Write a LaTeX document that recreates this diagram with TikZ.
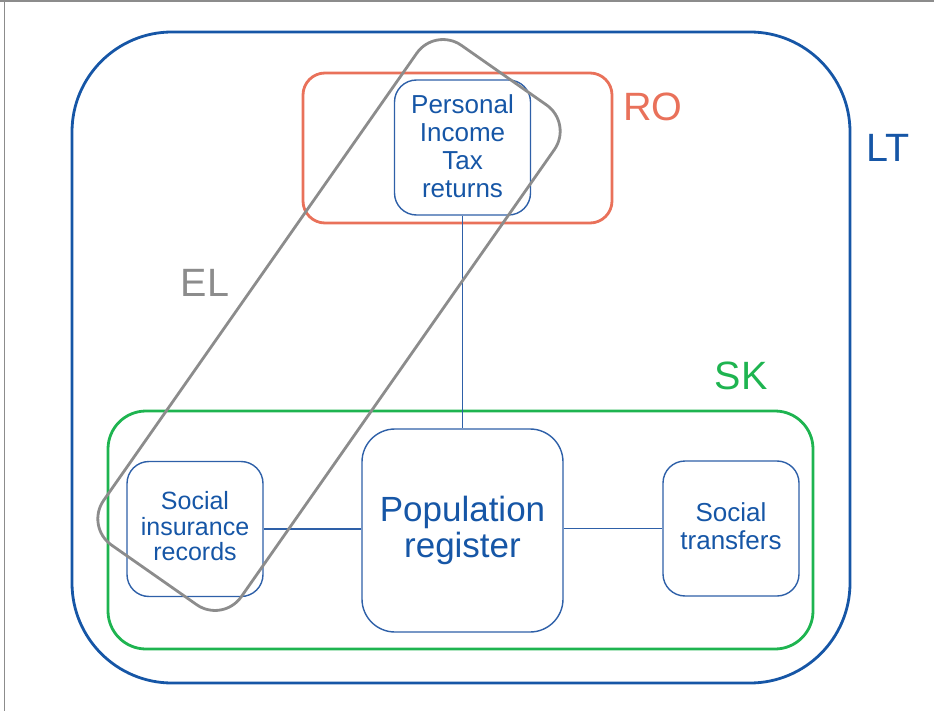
\documentclass[tikz,border=0pt]{standalone}
\usepackage{fontspec}
\setmainfont{Liberation Sans}
\definecolor{ltblue}{RGB}{22,86,166}
\definecolor{boxblue}{RGB}{46,96,168}
\definecolor{rored}{RGB}{233,113,90}
\definecolor{skgreen}{RGB}{30,180,80}
\definecolor{elgray}{RGB}{140,140,140}
\begin{document}
\begin{tikzpicture}[x=1pt,y=-1pt,
  frame/.style={draw, line width=2.8pt, rounded corners=#1, inner sep=0pt},
  frame/.default=20pt,
  unit/.style={draw=boxblue, line width=1.4pt, rounded corners=22pt, inner sep=0pt,
    text=ltblue, align=center, font=\fontsize{26}{28}\selectfont,
    minimum width=136pt, minimum height=135pt},
  tag/.style={font=\fontsize{39.5}{44}\selectfont, inner sep=0pt},
  link/.style={draw=boxblue, line width=1.3pt}
]
\useasboundingbox (0,0) rectangle (934,711);
% screenshot edge
\draw[elgray, line width=1.5pt] (4.5,0) -- (4.5,711);
\draw[elgray, line width=1.5pt] (0,1.2) -- (934,1.2);

% country groupings
\node[frame=100pt, draw=ltblue, minimum width=778pt, minimum height=651pt] (LT) at (461,357.5) {};
\node[frame=22pt, draw=rored, minimum width=309pt, minimum height=150pt] (RO) at (457.5,148) {};
\node[frame=38pt, draw=skgreen, minimum width=705pt, minimum height=238pt] (SK) at (460.5,530) {};

\node[tag, text=ltblue] (LTl) at (888,148) {LT};
\node[tag, text=rored] (ROl) at (653,107) {RO};
\node[tag, text=skgreen] (SKl) at (741,376) {SK};
\node[tag, text=elgray] (ELl) at (205,283) {EL};

% data sources
\node[unit, text depth=2pt] (PIT) at (462.5,147.5) {Personal\\Income\\Tax\\returns};
\node[unit, minimum width=201pt, minimum height=203pt, rounded corners=33pt,
  font=\fontsize{35}{36}\selectfont] (POP) at (462.5,530.5) {Population\\register};
\node[unit, font=\fontsize{25}{25.5}\selectfont, text depth=6pt] (SIR) at (195,529) {Social\\insurance\\records};
\node[unit, text depth=4.5pt] (ST) at (731,528.5) {Social\\transfers};

% links
\draw[link] (PIT.south) -- (POP.north);
\draw[link] (SIR.east) -- (SIR.east -| POP.west);
\draw[link] (POP.east |- ST.west) -- (ST.west);

% diagonal grouping
\node[frame=32pt, draw=elgray, minimum width=610pt, minimum height=168pt, rotate=55] (EL) at (329,325) {};
\end{tikzpicture}
\end{document}
